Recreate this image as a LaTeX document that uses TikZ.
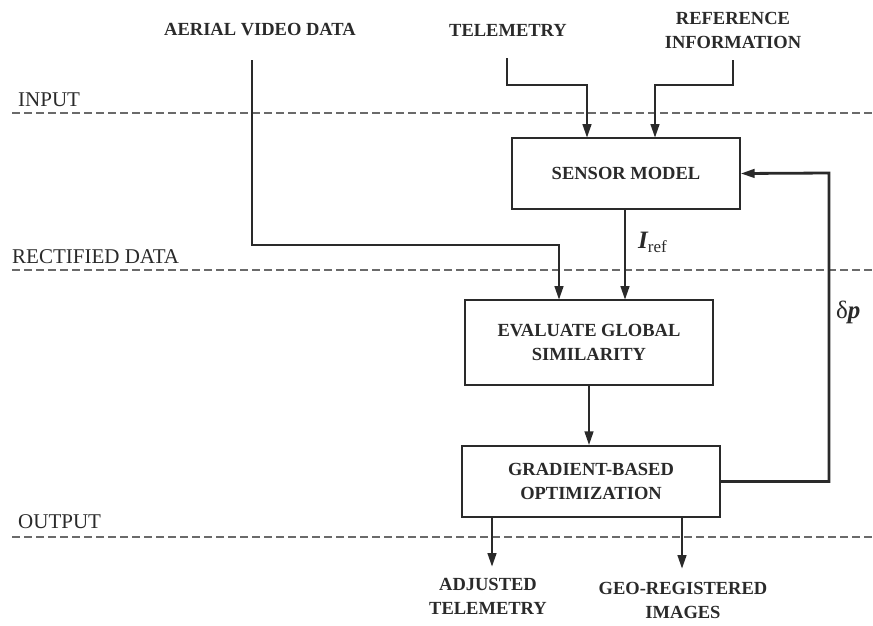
\documentclass[tikz,border=0pt]{standalone}
\usepackage{fontspec}
\setmainfont{Liberation Serif}
\usetikzlibrary{arrows.meta}
\definecolor{ink}{HTML}{2A2A2A}
\definecolor{dashc}{HTML}{6A6A6A}
\begin{document}
\begin{tikzpicture}[x=1pt,y=-1pt,
  lbl/.style={font=\fontsize{18.5}{24}\selectfont\bfseries, text=ink, align=center, inner sep=0pt},
  zone/.style={font=\fontsize{21}{24}\selectfont, text=ink, anchor=west, inner sep=0pt},
  sym/.style={font=\fontsize{25}{28}\selectfont, text=ink, inner sep=0pt},
  box/.style={draw=ink, line width=1.3pt, fill=white, inner sep=0pt},
  conn/.style={draw=ink, line width=2.8pt},
  arr/.style={conn, -{Triangle[length=14pt,width=8.5pt]}},
  sep/.style={draw=dashc, line width=1.3pt, dash pattern=on 8pt off 4pt}]
\useasboundingbox (0,0) rectangle (873,625);
% separators
\draw[sep] (12,113) -- (873,113);
\draw[sep] (12,270) -- (873,270);
\draw[sep] (12,537) -- (873,537);
\node[zone] (zin) at (18,100) {INPUT};
\node[zone] (zrect) at (12,257) {RECTIFIED DATA};
\node[zone] (zout) at (18,522) {OUTPUT};
% inputs
\node[lbl] (aerial) at (260,30) {AERIAL VIDEO DATA};
\node[lbl] (tele) at (508,30) {TELEMETRY};
\node[lbl] (refi) at (733,30) {REFERENCE\\INFORMATION};
% boxes
\node[box, minimum width=228pt, minimum height=71pt] (sensor) at (626,173.5) {};
\node[lbl] at (sensor.center) {SENSOR MODEL};
\node[box, minimum width=248pt, minimum height=85pt] (eval) at (589,342.5) {};
\node[lbl] at (eval.center) {EVALUATE GLOBAL\\SIMILARITY};
\node[box, minimum width=258pt, minimum height=71pt] (grad) at (591,481.5) {};
\node[lbl] at (grad.center) {GRADIENT-BASED\\OPTIMIZATION};
% outputs
\node[lbl] (adj) at (488,596) {ADJUSTED\\TELEMETRY};
\node[lbl] (geo) at (683,600) {GEO-REGISTERED\\IMAGES};
% coordinates
\coordinate (a0) at (252,60);
\coordinate (t0) at (507,58);
\coordinate (r0) at (733,60);
% connectors
\draw[arr] (a0) |- (559,245) -- (559,300);
\draw[arr] (t0) |- (587,85) -- (587,138);
\draw[arr] (r0) |- (655,85) -- (655,138);
\draw[arr] (625,209) -- (625,300);
\node[sym, anchor=west] (iref) at (638,242) {{\bfseries\itshape I}\raisebox{-0.35ex}{\fontsize{17}{20}\selectfont ref}};
\draw[arr] (eval.south) -- (eval.south |- grad.north);
\draw[arr] (grad.east) -| (829,173) -- (sensor.east);
\node[sym, anchor=west] (dp) at (836,312) {δ{\bfseries\itshape p}};
\draw[arr] (492,517) -- (492,567);
\draw[arr] (682,517) -- (682,569);
\end{tikzpicture}
\end{document}
